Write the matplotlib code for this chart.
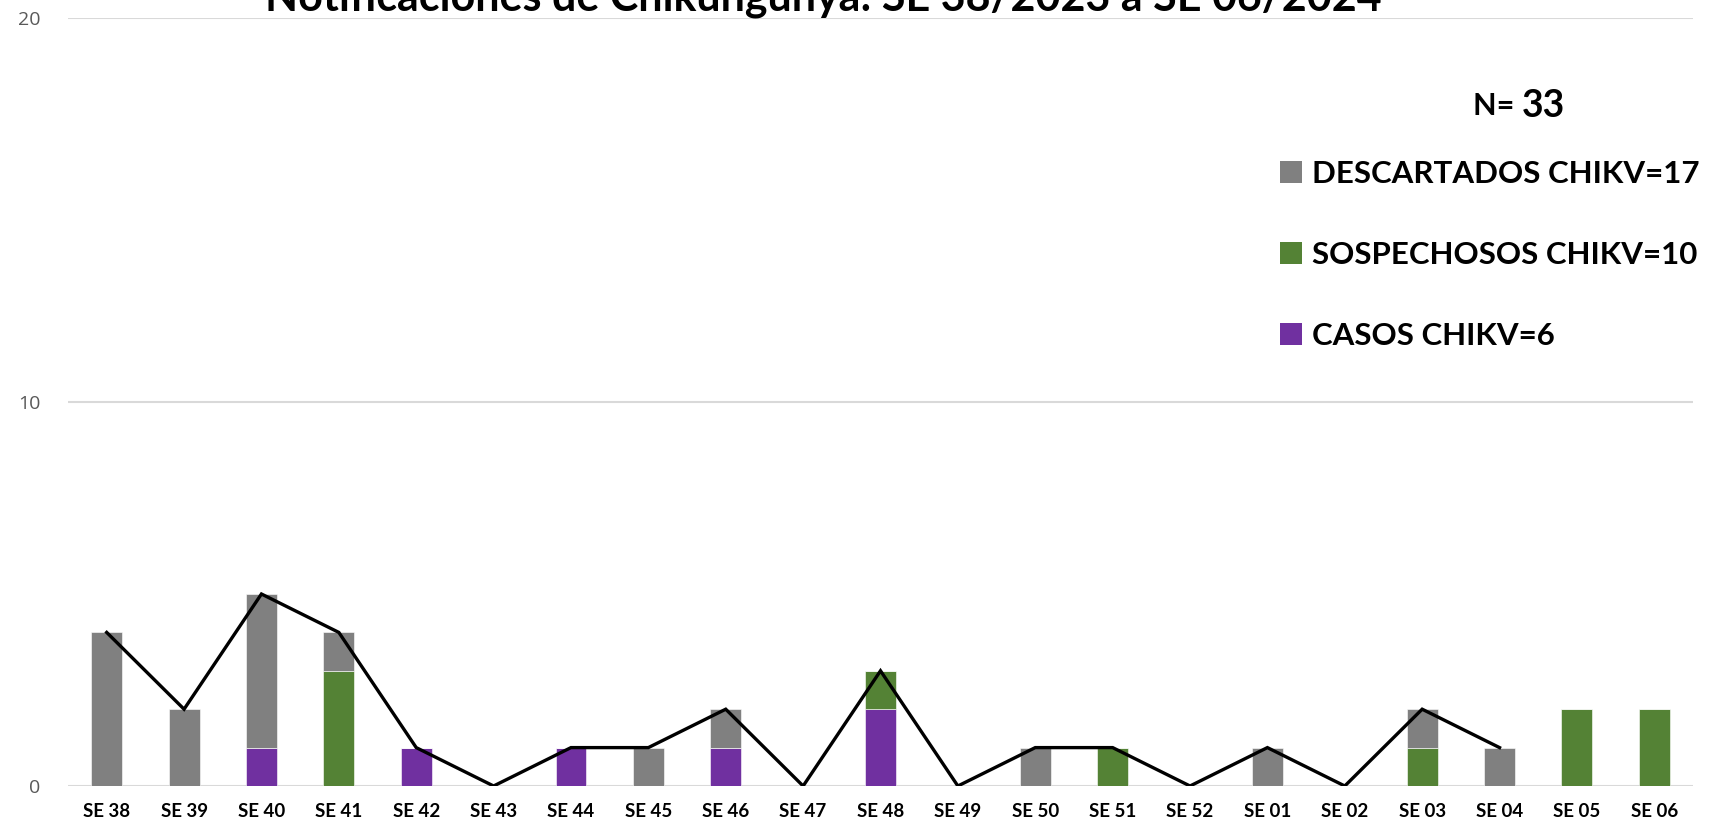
import matplotlib
matplotlib.use("Agg")
import matplotlib.pyplot as plt
from matplotlib.patches import Patch
import numpy as np

weeks = ["SE 38", "SE 39", "SE 40", "SE 41", "SE 42", "SE 43", "SE 44", "SE 45", "SE 46",
         "SE 47", "SE 48", "SE 49", "SE 50", "SE 51", "SE 52", "SE 01", "SE 02", "SE 03",
         "SE 04", "SE 05", "SE 06"]
casos = [0, 0, 1, 0, 1, 0, 1, 0, 1, 0, 2, 0, 0, 0, 0, 0, 0, 0, 0, 0, 0]
sospechosos = [0, 0, 0, 3, 0, 0, 0, 0, 0, 0, 1, 0, 0, 1, 0, 0, 0, 1, 0, 2, 2]
descartados = [4, 2, 4, 1, 0, 0, 0, 1, 1, 0, 0, 0, 1, 0, 0, 1, 0, 1, 1, 0, 0]
total_line = [4, 2, 5, 4, 1, 0, 1, 1, 2, 0, 3, 0, 1, 1, 0, 1, 0, 2, 1]

title = "Notificaciones de Chikungunya: SE 38/2023 a SE 06/2024"
labels = ["DESCARTADOS CHIKV=17", "SOSPECHOSOS CHIKV=10", "CASOS CHIKV=6"]
n_total = "33"

c_gray = "#808080"
c_green = "#548235"
c_purple = "#7030A0"

plt.rcParams['font.family'] = ['Lato', 'DejaVu Sans']

W, H = 1721, 823
fig = plt.figure(figsize=(W / 100, H / 100), dpi=100)
ax = fig.add_axes([68 / W, 1 - 786 / H, (1693 - 68) / W, (786 - 18) / H])

x = np.arange(len(weeks))
bw = 0.40
casos_a = np.array(casos)
sosp_a = np.array(sospechosos)
desc_a = np.array(descartados)
ax.bar(x, casos_a, bw, color=c_purple, edgecolor="#ffffff", linewidth=0.4, zorder=2)
ax.bar(x, sosp_a, bw, bottom=casos_a, color=c_green, edgecolor="#ffffff", linewidth=0.4, zorder=2)
ax.bar(x, desc_a, bw, bottom=casos_a + sosp_a, color=c_gray, edgecolor="#ffffff", linewidth=0.4, zorder=2)
ax.plot(np.arange(len(total_line)), total_line, color="black", lw=2.4, zorder=3,
        solid_joinstyle="miter")

ax.set_xlim(-0.5, len(weeks) - 0.5)
ax.set_ylim(0, 20)
ax.set_yticks([0, 10, 20])
ax.yaxis.grid(True, color="#d9d9d9", lw=1.5, zorder=0)
ax.set_axisbelow(True)
for s in ax.spines.values():
    s.set_visible(False)
ax.tick_params(axis="y", length=0, pad=20, labelsize=14, labelcolor="#595959")
ax.set_xticks(x)
ax.set_xticklabels(weeks, fontsize=13.5, fontweight="bold")
ax.tick_params(axis="x", length=0, pad=12)
for t in ax.get_yticklabels():
    t.set_family(['Open Sans', 'DejaVu Sans'])

fig.text(823 / W, 1 - 10 / H, title, ha="center", va="baseline", fontsize=31,
         fontweight="bold", color="black")

fig.text(1522 / W, 1 - 106 / H, "N= ", ha="right", va="center", fontsize=22, fontweight="bold")
fig.text(1522 / W, 1 - 106 / H, n_total, ha="left", va="center", fontsize=27, fontweight="bold")

handles = [Patch(facecolor=c_gray), Patch(facecolor=c_green), Patch(facecolor=c_purple)]
leg = ax.legend(handles, labels, loc="upper left", bbox_to_anchor=(1280 / W, 1 - 160 / H),
                bbox_transform=fig.transFigure, frameon=False, prop={"size": 22.5, "weight": "bold"},
                handlelength=0.7, handleheight=0.7, handletextpad=0.33, labelspacing=1.7,
                borderpad=0, borderaxespad=0)

fig.savefig("out.png", dpi=100)
